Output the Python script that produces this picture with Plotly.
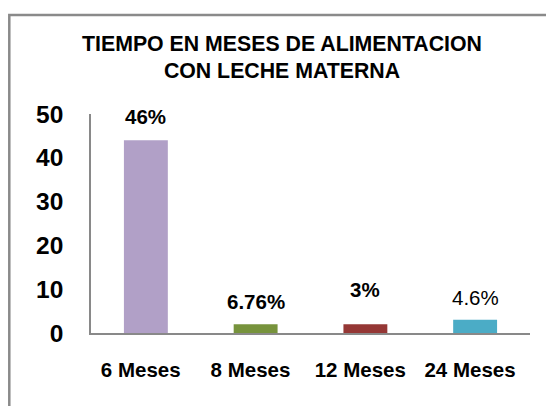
import plotly.graph_objects as go

categories = ["6 Meses", "8 Meses", "12 Meses", "24 Meses"]
values = [44, 2, 2, 3]
labels = ["46%", "6.76%", "3%", "4.6%"]
label_bold = [True, True, True, False]
colors = ["#B1A0C7", "#77933C", "#953735", "#4BACC6"]
label_shift = [24, 23, 35, 22.5]

FONT = "Liberation Sans, Arial"
# the page body has an 8px margin, so the figure is 8px smaller than the window
W, H = 546, 398
L, R, T, B = 83, 23.5, 105.5, 72.5
pw, ph = W - L - R, H - T - B

fig = go.Figure()
fig.add_trace(go.Bar(x=categories, y=values, marker=dict(color=colors, line=dict(width=0)),
                     width=0.40, showlegend=False, hoverinfo="skip"))

for c, v, t, b, s in zip(categories, values, labels, label_bold, label_shift):
    fig.add_annotation(x=c, y=v, text=f"<b>{t}</b>" if b else t, showarrow=False,
                       yshift=s, xanchor="center", yanchor="middle",
                       font=dict(family=FONT, size=20.5, color="#000000"))

# outer chart border: left edge and top edge; right/bottom outside view
top_y = (H - B - 6) / ph
left_x = (1.2 - L) / pw
fig.add_shape(type="rect", xref="paper", yref="paper",
              x0=left_x, x1=(W + 30 - L) / pw, y0=-(B + 30) / ph, y1=top_y,
              line=dict(color="#8A8A8A", width=2.5), fillcolor="rgba(0,0,0,0)", layer="below")

fig.update_layout(
    width=W, height=H,
    margin=dict(l=L, r=R, t=T, b=B, autoexpand=False),
    paper_bgcolor="white", plot_bgcolor="white",
    title=dict(text="<b>TIEMPO EN MESES DE ALIMENTACION<br>CON LECHE MATERNA</b>",
               x=274 / W, xanchor="center", y=1 - 42.5 / H, yanchor="middle",
               font=dict(family=FONT, size=21.3, color="#000000")),
)
fig.update_xaxes(showline=True, linecolor="#898989", linewidth=1.5, ticks="", showgrid=False,
                 tickfont=dict(family=FONT, size=20.5, color="#000000"),
                 ticklabelstandoff=18, tickprefix="<b>", ticksuffix="\u2002</b>")
fig.update_yaxes(range=[0, 50], dtick=10, showline=True, linecolor="#898989", linewidth=1.5,
                 ticks="", showgrid=False, zeroline=False,
                 tickfont=dict(family=FONT, size=24.5, color="#000000"),
                 ticklabelstandoff=21, tickprefix="<b>", ticksuffix="</b>")

fig.write_html("out.html", config={"displayModeBar": False})
